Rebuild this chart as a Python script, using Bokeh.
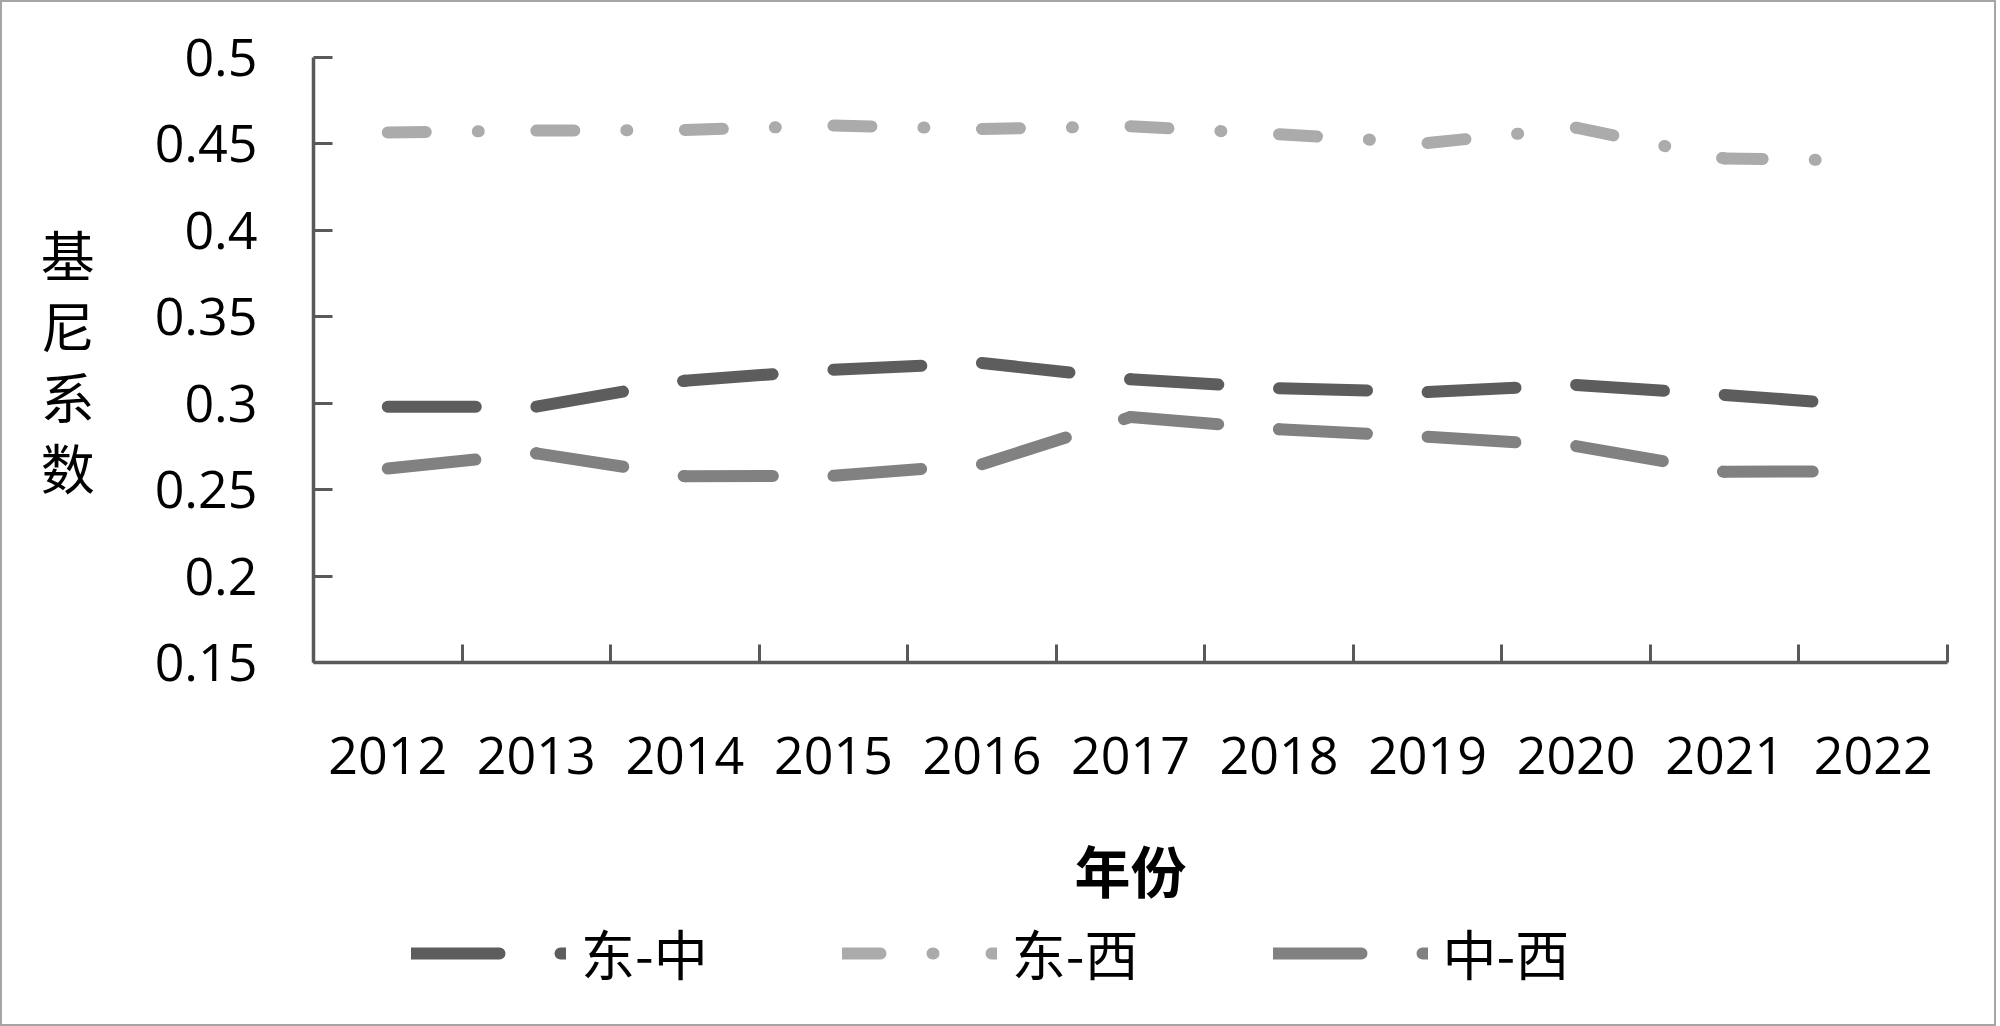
from bokeh.plotting import figure
from bokeh.layouts import column
from bokeh.models import Range1d, FixedTicker, Legend, LegendItem, LinearAxis, ColumnDataSource
from bokeh.embed import file_html
from bokeh.resources import INLINE

# ---------------- data ----------------
years = ["2012", "2013", "2014", "2015", "2016", "2017", "2018", "2019", "2020", "2021", "2022"]
east_central = [0.298, 0.298, 0.313, 0.3194, 0.3233, 0.3139, 0.3086, 0.3065, 0.3106, 0.3048, 0.2984]
east_west = [0.4566, 0.4577, 0.4581, 0.4606, 0.4587, 0.4602, 0.4556, 0.4505, 0.4594, 0.4416, 0.4403]
central_west = [0.2622, 0.271, 0.2578, 0.258, 0.2647, 0.292, 0.2849, 0.2806, 0.2752, 0.2603, 0.2607]
series_names = ["东-中", "东-西", "中-西"]
y_ticks = [0.15, 0.2, 0.25, 0.3, 0.35, 0.4, 0.45, 0.5]
y_tick_labels = ["0.15", "0.2", "0.25", "0.3", "0.35", "0.4", "0.45", "0.5"]
x_title = "年份"
y_title = "基尼系数"

# ---------------- styling ----------------
AXIS_COLOR = "#595959"
NUM_FONT = "Open Sans"
CJK_FONT = "Noto Sans CJK SC"
series_colors = ["#5d5d5d", "#ababab", "#818181"]
series_dashes = ["88 61", "38 52 1 58", "88 61"]
W = 1992
H = 1022
LEG_H = 118

n = len(years)
centers = [i + 0.5 for i in range(n)]
boundaries = [float(i) for i in range(n + 1)]
all_series = [east_central, east_west, central_west]

p = figure(width=W, height=H, output_backend="svg", toolbar_location=None,
           x_range=Range1d(0, n), y_range=Range1d(y_ticks[0], y_ticks[-1]),
           x_axis_type=None, y_axis_type=None,
           min_border_left=311, min_border_right=47, min_border_top=55, min_border_bottom=362)
p.outline_line_color = None
p.background_fill_color = "white"
p.border_fill_color = "white"

# x axis: labels at category centres, tick marks at category boundaries
xa = LinearAxis(ticker=FixedTicker(ticks=centers, minor_ticks=boundaries),
                major_label_overrides={c: y for c, y in zip(centers, years)})
xa.axis_line_color = AXIS_COLOR
xa.axis_line_width = 3.5
xa.major_tick_line_color = None
xa.major_tick_in = 0
xa.major_tick_out = 0
xa.minor_tick_line_color = AXIS_COLOR
xa.minor_tick_line_width = 3
xa.minor_tick_in = 18
xa.minor_tick_out = 0
xa.major_label_standoff = 74
xa.major_label_text_font = NUM_FONT
xa.major_label_text_font_size = "52px"
xa.major_label_text_color = "black"
xa.axis_label = x_title
xa.axis_label_text_font = CJK_FONT
xa.axis_label_text_font_size = "56px"
xa.axis_label_text_font_style = "bold"
xa.axis_label_text_color = "black"
xa.axis_label_standoff = 51
p.add_layout(xa, "below")

ya = LinearAxis(ticker=FixedTicker(ticks=y_ticks, minor_ticks=[]),
                major_label_overrides={t: s for t, s in zip(y_ticks, y_tick_labels)})
ya.axis_line_color = AXIS_COLOR
ya.axis_line_width = 3.5
ya.major_tick_line_color = AXIS_COLOR
ya.major_tick_line_width = 3
ya.major_tick_in = 19
ya.major_tick_out = 0
ya.minor_tick_line_color = None
ya.major_label_standoff = 56
ya.major_label_text_font = NUM_FONT
ya.major_label_text_font_size = "52px"
ya.major_label_text_color = "black"
ya.axis_label = "\n".join(list(y_title))
ya.axis_label_orientation = "horizontal"
ya.axis_label_text_font = CJK_FONT
ya.axis_label_text_font_size = "54px"
ya.axis_label_text_font_style = "normal"
ya.axis_label_text_line_height = 0.9
ya.axis_label_text_color = "black"
ya.axis_label_standoff = 57
p.add_layout(ya, "left")


def add_series(fig):
    rs = []
    for vals, col, dash in zip(all_series, series_colors, series_dashes):
        xs = [[centers[i], centers[i + 1]] for i in range(n - 1)]
        ys = [[vals[i], vals[i + 1]] for i in range(n - 1)]
        src = ColumnDataSource(dict(xs=xs, ys=ys))
        rs.append(fig.multi_line("xs", "ys", source=src, line_color=col, line_width=12,
                                 line_dash=dash, line_cap="round", line_join="round"))
    return rs


# lines: one sub-line per segment so the dash pattern restarts at each point
add_series(p)

# transparent legend strip laid over the bottom of the chart
# (its own copies of the series lie outside its y range, only the legend shows)
lg = figure(width=W, height=LEG_H, output_backend="svg", toolbar_location=None,
            x_range=Range1d(0, n), y_range=Range1d(10, 11),
            x_axis_type=None, y_axis_type=None,
            min_border_left=0, min_border_right=0, min_border_top=0, min_border_bottom=0)
lg.outline_line_color = None
lg.border_fill_alpha = 0
lg.background_fill_alpha = 0
lg.margin = (-LEG_H, 0, 0, 0)
lg_renderers = add_series(lg)

legend = Legend(items=[LegendItem(label=nm, renderers=[r]) for nm, r in zip(series_names, lg_renderers)],
                orientation="horizontal", location=(98, 32),
                glyph_width=155, glyph_height=78, label_height=78, label_standoff=15, spacing=134,
                padding=0, margin=0, border_line_color=None, background_fill_alpha=0,
                label_text_font=CJK_FONT, label_text_font_size="54px",
                label_text_color="black")
lg.add_layout(legend)

layout = column(p, lg, spacing=0)
layout.styles = {"border": "2px solid #a6a6a6"}

open("out.html", "w").write(file_html(layout, INLINE))
